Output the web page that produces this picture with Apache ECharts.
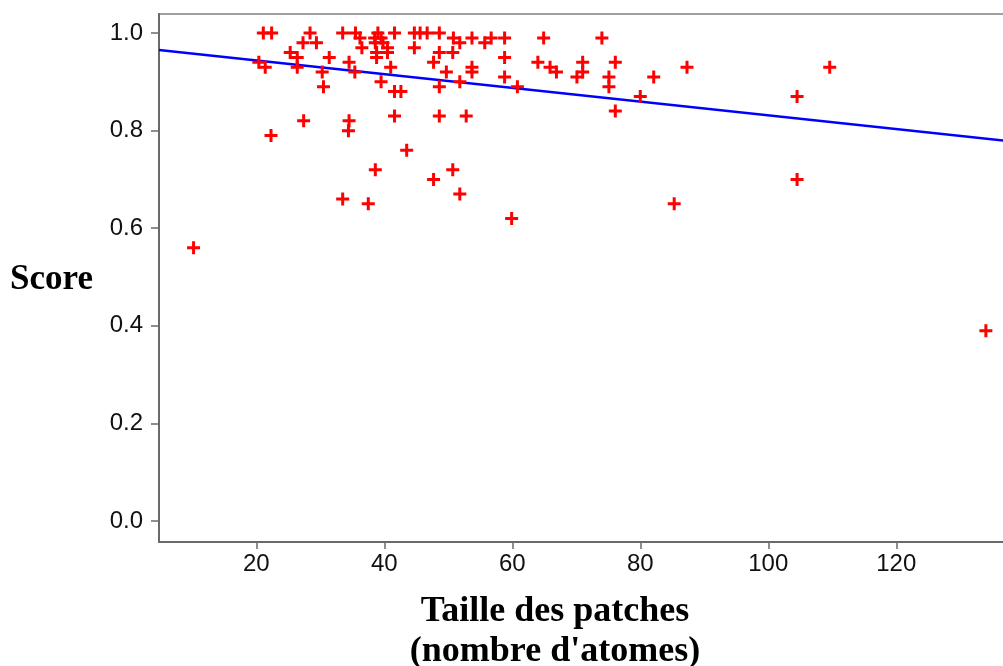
<!DOCTYPE html>
<html>
<head>
<meta charset="utf-8">
<script src="https://cdn.jsdelivr.net/npm/echarts@6/dist/echarts.min.js"></script>
<style>
html,body{margin:0;padding:0;background:#fff;}
#chart{width:1003px;height:666px;}
</style>
</head>
<body>
<div id="chart"></div>
<script>
// Patch size (number of atoms)
const patchSize = [
  10.2, 21.1, 22.4, 20.4, 21.4, 22.3, 25.3, 26.4, 26.4, 27.3,
  28.4, 29.4, 27.4, 30.3, 30.5, 31.4, 33.5, 34.5, 35.4, 34.5,
  34.4, 33.5, 35.5, 36.2, 36.5, 37.5, 39.0, 38.5, 39.5, 38.6,
  39.8, 40.5, 38.8, 40.5, 38.8, 41.6, 41.0, 44.7, 45.6, 46.7,
  48.6, 44.7, 47.7, 48.6, 50.7, 49.7, 50.8, 51.8, 53.7, 53.7,
  53.7, 55.7, 56.7, 58.8, 58.8, 58.8, 60.8, 48.6, 51.8, 39.5,
  41.6, 42.6, 41.6, 48.6, 52.8, 43.5, 38.6, 47.7, 50.7, 51.8,
  59.9, 64.0, 64.9, 65.9, 66.9, 71.0, 71.0, 70.1, 74.0, 76.1,
  75.1, 75.1, 76.1, 80.0, 82.1, 87.3, 85.3, 104.5, 104.5, 109.6,
  134.0
];
// Score
const score = [
  0.56, 1.00, 1.00, 0.94, 0.93, 0.79, 0.96, 0.95, 0.93, 0.98,
  1.00, 0.98, 0.82, 0.92, 0.89, 0.95, 1.00, 0.94, 0.92, 0.82,
  0.80, 0.66, 1.00, 0.99, 0.97, 0.65, 1.00, 0.99, 0.99, 0.98,
  0.98, 0.97, 0.96, 0.96, 0.95, 1.00, 0.93, 1.00, 1.00, 1.00,
  1.00, 0.97, 0.94, 0.96, 0.96, 0.92, 0.99, 0.98, 0.99, 0.93,
  0.92, 0.98, 0.99, 0.99, 0.95, 0.91, 0.89, 0.89, 0.90, 0.90,
  0.88, 0.88, 0.83, 0.83, 0.83, 0.76, 0.72, 0.70, 0.72, 0.67,
  0.62, 0.94, 0.99, 0.93, 0.92, 0.94, 0.92, 0.91, 0.99, 0.94,
  0.91, 0.89, 0.84, 0.87, 0.91, 0.93, 0.65, 0.87, 0.70, 0.93,
  0.39
];
// Regression line end points
const fitX = [4.8, 137.3];
const fitY = [0.965, 0.779];
// Tick labels
const xTicks = [20, 40, 60, 80, 100, 120];
const yTicks = [0.0, 0.2, 0.4, 0.6, 0.8, 1.0];

const xTitle1 = 'Taille des patches';
const xTitle2 = "(nombre d'atomes)";
const yTitle = 'Score';

const chart = echarts.init(document.getElementById('chart'), null, {renderer: 'canvas'});
const crossPath = 'path://M5,0H8V5H13V8H8V13H5V8H0V5H5Z';
const tickFont = {fontSize: 24, color: '#111', fontFamily: '"Liberation Sans", Arial, sans-serif'};

chart.setOption({
  animation: false,
  backgroundColor: '#ffffff',
  grid: {
    left: 159, right: -4, top: 14, bottom: 124,
    show: true, borderColor: '#a0a0a0', borderWidth: 2,
    outerBoundsMode: 'none', containLabel: false
  },
  xAxis: {
    type: 'value', min: 4.8, max: 137.3,
    axisLine: {show: true, onZero: false, lineStyle: {color: '#6a6a6a', width: 2}},
    axisTick: {show: true, customValues: xTicks, length: 7, lineStyle: {color: '#6a6a6a', width: 1.5}},
    axisLabel: Object.assign({customValues: xTicks, margin: 10}, tickFont),
    splitLine: {show: false}
  },
  yAxis: {
    type: 'value', min: -0.043, max: 1.039,
    axisLine: {show: true, onZero: false, lineStyle: {color: '#6a6a6a', width: 2}},
    axisTick: {show: true, customValues: yTicks, length: 8, lineStyle: {color: '#6a6a6a', width: 1.5}},
    axisLabel: Object.assign({customValues: yTicks, margin: 16, formatter: v => v.toFixed(1)}, tickFont),
    splitLine: {show: false}
  },
  graphic: [
    {type: 'text', left: 10, top: 262, style: {text: yTitle, font: 'bold 35px "Liberation Serif", "Times New Roman", serif', fill: '#000'}},
    {type: 'text', x: 555, y: 592, style: {text: xTitle1 + '\n' + xTitle2, font: 'bold 36px "Liberation Serif", "Times New Roman", serif', fill: '#000', align: 'center', lineHeight: 40}}
  ],
  series: [
    {
      type: 'line', data: fitX.map((x, i) => [x, fitY[i]]),
      showSymbol: false, symbol: 'none', z: 2,
      lineStyle: {color: '#0000ff', width: 2.5}
    },
    {
      type: 'scatter', data: patchSize.map((x, i) => [x, score[i]]),
      symbol: crossPath, symbolSize: 13, z: 3,
      itemStyle: {color: '#ff0000', opacity: 1}
    }
  ]
});
</script>
</body>
</html>
